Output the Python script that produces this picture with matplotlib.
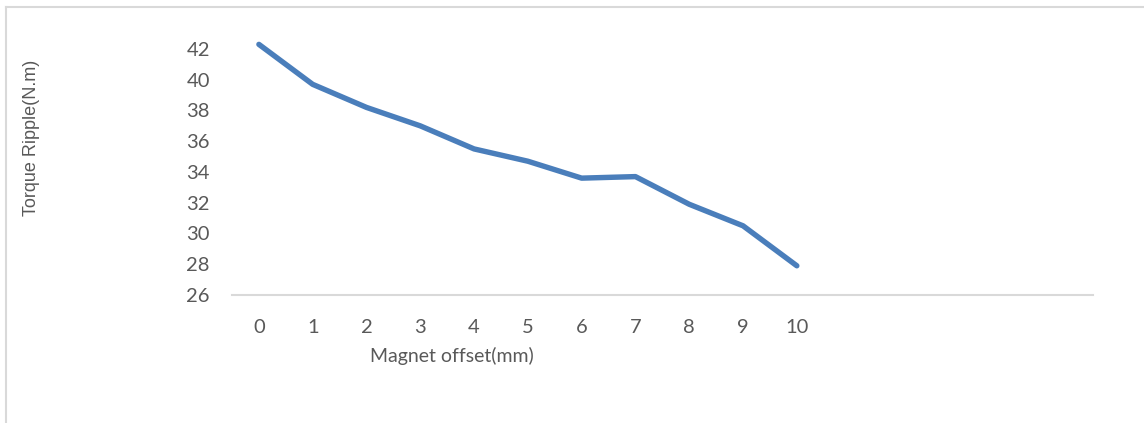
import matplotlib
matplotlib.use("Agg")
import matplotlib.pyplot as plt
from matplotlib.lines import Line2D

# Torque ripple against magnet offset
offsets = [0, 1, 2, 3, 4, 5, 6, 7, 8, 9, 10]
ripple = [42.3, 39.7, 38.2, 37.0, 35.5, 34.7, 33.6, 33.7, 31.9, 30.5, 27.9]
y_ticks = [26, 28, 30, 32, 34, 36, 38, 40, 42]
n_slots = 16  # category axis keeps room for empty slots on the right

text_grey = "#595959"
line_blue = "#4a7ebb"

fig = plt.figure(figsize=(11.44, 4.23), dpi=100)
ax = fig.add_axes([232 / 1144, 1 - 295 / 423, (1092.7 - 232) / 1144, (295 - 33.6) / 423])

ax.plot(offsets, ripple, color=line_blue, lw=3.9, solid_capstyle="round",
        solid_joinstyle="round", clip_on=False)

ax.set_xlim(-0.5, n_slots - 0.5)
ax.set_ylim(26, 43)
ax.set_xticks(offsets)
ax.set_xticklabels([str(o) for o in offsets])
ax.set_yticks(y_ticks)

for side in ["top", "right", "left"]:
    ax.spines[side].set_visible(False)
ax.spines["bottom"].set_color("#d9d9d9")
ax.spines["bottom"].set_linewidth(1.5)

ax.tick_params(axis="both", length=0, colors=text_grey, labelsize=14.5)
ax.tick_params(axis="x", pad=17)
ax.tick_params(axis="y", pad=16)
for lab in ax.get_xticklabels() + ax.get_yticklabels():
    lab.set_fontfamily("Lato")

fig.text(452 / 1144, 1 - 356 / 423, "Magnet offset(mm)", family="Lato",
         fontsize=14, color=text_grey, ha="center", va="center")
fig.text(32 / 1144, 1 - 138 / 423, "Torque Ripple(N.m)", family="Liberation Sans",
         fontsize=13, color=text_grey, ha="center", va="center", rotation=90)

# thin chart-area border along the top and left edges
border = "#d9d9d9"
fig.add_artist(Line2D([6 / 1144, 1], [1 - 7 / 423, 1 - 7 / 423],
                      transform=fig.transFigure, color=border, lw=1.5))
fig.add_artist(Line2D([6 / 1144, 6 / 1144], [0, 1 - 7 / 423],
                      transform=fig.transFigure, color=border, lw=1.5))

fig.savefig("out.png", dpi=100, facecolor="white")
